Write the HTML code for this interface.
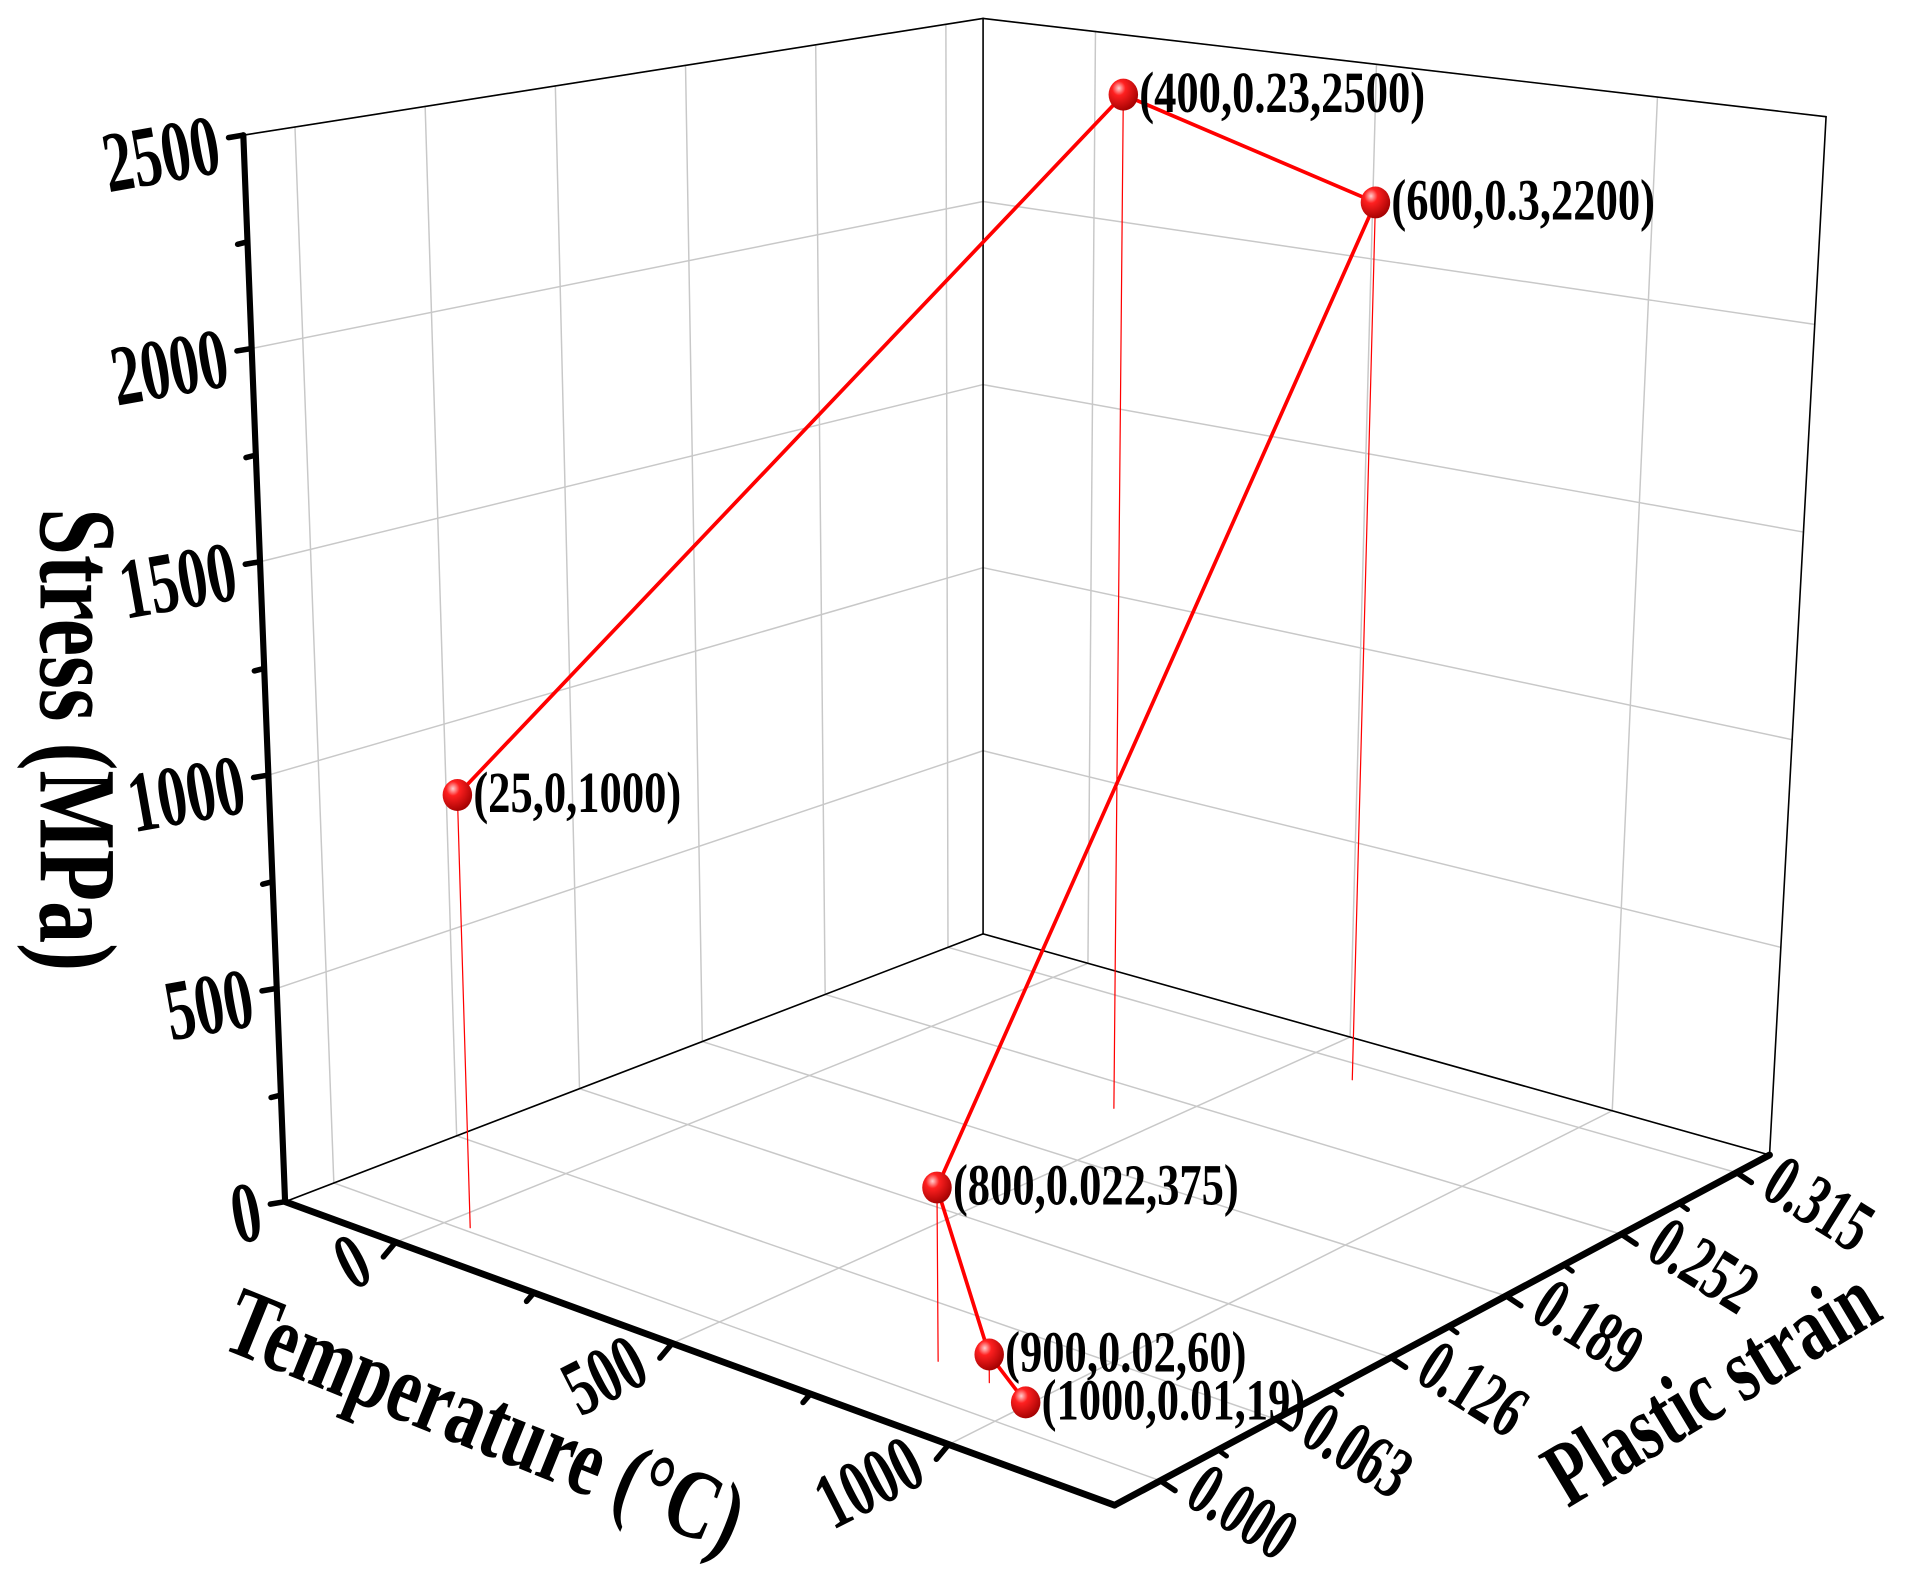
<!DOCTYPE html>
<html><head><meta charset="utf-8">
<style>
html,body{margin:0;padding:0;background:#fff;}
svg{display:block;}
text{font-family:"Liberation Serif",serif;font-weight:bold;fill:#000;}
</style></head>
<body>
<svg id="chart" width="1917" height="1574" viewBox="0 0 1560 1281" preserveAspectRatio="none" xmlns="http://www.w3.org/2000/svg">
<defs>
<radialGradient id="ball" cx="0.35" cy="0.3" r="0.75">
<stop offset="0" stop-color="#ffd0d0"/><stop offset="0.3" stop-color="#ff2020"/><stop offset="1" stop-color="#a00000"/>
</radialGradient>
</defs>
<g id="grid"></g>
<g id="axes"></g>
<g id="series"></g>
<text transform="translate(33,602) rotate(90) scale(0.95,1.25)" text-anchor="middle" font-size="72">Stress (MPa)</text>
<text transform="translate(385,1180) rotate(22) scale(0.92,1.25)" text-anchor="middle" font-size="64">Temperature (°C)</text>
<text transform="translate(1405,1150) rotate(-31) scale(0.9,1.25)" text-anchor="middle" font-size="60">Plastic strain</text>
</svg>
<script>
// data
const temps = [25, 400, 600, 800, 900, 1000];
const strains = [0, 0.23, 0.3, 0.022, 0.02, 0.01];
const stresses = [1000, 2500, 2200, 375, 60, 19];
const pointLabels = ["(25,0,1000)", "(400,0.23,2500)", "(600,0.3,2200)", "(800,0.022,375)", "(900,0.02,60)", "(1000,0.01,19)"];
const tempTicks = [0, 500, 1000];
const strainTicks = [0, 0.063, 0.126, 0.189, 0.252, 0.315];
const stressTicks = [0, 500, 1000, 1500, 2000, 2500];
const strainTickLabels = ["0.000", "0.063", "0.126", "0.189", "0.252", "0.315"];

const T0 = -200, T1 = 1300, S0 = -0.025, S1 = 0.333, P0 = 0, P1 = 2500;
const NS = "http://www.w3.org/2000/svg";
const floorC = {L:[232,978], F:[907,1225], R:[1440,940], B:[800,760]};
const topC = {L:[198,110], F:[905,215], R:[1486,95], B:[800,15]};
function bil(c,u,v){
  const a=(1-u)*(1-v), b=u*(1-v), d=u*v, e=(1-u)*v;
  return [a*c.L[0]+b*c.F[0]+d*c.R[0]+e*c.B[0], a*c.L[1]+b*c.F[1]+d*c.R[1]+e*c.B[1]];
}
function proj(T,S,P){
  const u=(T-T0)/(T1-T0), v=(S-S0)/(S1-S0), w=(P-P0)/(P1-P0);
  const f=bil(floorC,u,v), t=bil(topC,u,v);
  return [f[0]+w*(t[0]-f[0]), f[1]+w*(t[1]-f[1])];
}
function projData(T,S,P){ return proj(T+12, S+0.003, P); }
function el(parent,tag,attrs){const e=document.createElementNS(NS,tag);for(const k in attrs)e.setAttribute(k,attrs[k]);parent.appendChild(e);return e;}
function line(g,a,b,stroke,w){return el(g,'line',{x1:a[0],y1:a[1],x2:b[0],y2:b[1],stroke:stroke,'stroke-width':w,'stroke-linecap':'round'});}

const grid=document.getElementById('grid');
const axes=document.getElementById('axes');
const series=document.getElementById('series');
const gc='#c8c8c8';
strainTicks.forEach(s=>{const l=line(grid,proj(T0,s,P0),proj(T0,s,P1),gc,1.2);

});
tempTicks.forEach(t=>{const l=line(grid,proj(t,S1,P0),proj(t,S1,P1),gc,1.2);

});
stressTicks.forEach(p=>{
  const a=line(grid,proj(T0,S0,p),proj(T0,S1,p),gc,1.2);
  
  
  const b=line(grid,proj(T0,S1,p),proj(T1,S1,p),gc,1.2);
  
  
});
strainTicks.forEach(s=>{const l=line(grid,proj(T0,s,P0),proj(T1,s,P0),gc,1.2);

});
tempTicks.forEach(t=>{const l=line(grid,proj(t,S0,P0),proj(t,S1,P0),gc,1.2);

});
[[proj(T0,S1,P0),proj(T0,S1,P1)],[proj(T0,S0,P1),proj(T0,S1,P1)],[proj(T0,S1,P1),proj(T1,S1,P1)],
 [proj(T1,S1,P1),proj(T1,S1,P0)],[proj(T0,S0,P0),proj(T0,S1,P0)],[proj(T0,S1,P0),proj(T1,S1,P0)]].forEach(e=>{
  const l=line(axes,e[0],e[1],'#000',1.3);
  
  
});
let ax=line(axes,proj(T0,S0,P0),proj(T0,S0,P1),'#000',5);


ax=line(axes,proj(T0,S0,P0),proj(T1,S0,P0),'#000',5.5);


ax=line(axes,proj(T1,S0,P0),proj(T1,S1,P0),'#000',5.5);



for(let p=0;p<=2500;p+=250){
  const a=proj(T0,S0,p); const major=p%500===0;
  const l=line(axes,a,[a[0]-(major?12:8),a[1]+2],'#000',4.5);
  
  
}
stressTicks.forEach(p=>{
  const a=proj(T0,S0,p);
  const t=el(axes,'text',{transform:`translate(${a[0]-16},${a[1]+30}) rotate(-10) scale(0.88,1.3)`,'text-anchor':'end','font-size':54});
  t.textContent=String(p);
  
  
});
for(let T=0;T<=1000;T+=250){
  const a=proj(T,S0,P0); const major=T%500===0;
  const l=line(axes,a,[a[0]-(major?10:6),a[1]+(major?12:7)],'#000',4.5);
  
  
}
tempTicks.forEach(T=>{
  const a=proj(T,S0,P0);
  const t=el(axes,'text',{transform:`translate(${a[0]-16},${a[1]+30}) rotate(-27) scale(0.88,1.3)`,'text-anchor':'end','font-size':50});
  t.textContent=String(T);
  
  
});
for(let i=0;i<strainTicks.length;i++){
  const s=strainTicks[i];
  const a=proj(T1,s,P0);
  const l=line(axes,a,[a[0]+12,a[1]+8],'#000',4.5);
  
  
  if(i<strainTicks.length-1){
    const m=proj(T1,(s+strainTicks[i+1])/2,P0);
    const l2=line(axes,m,[m[0]+7,m[1]+5],'#000',4);
    
    
  }
  const t=el(axes,'text',{transform:`translate(${a[0]+18},${a[1]+18}) rotate(32) scale(0.88,1.3)`,'text-anchor':'start','font-size':46});
  t.textContent=strainTickLabels[i];
  
  
}

for(let i=0;i<temps.length;i++){
  const l=line(series,projData(temps[i],strains[i],P0),projData(temps[i],strains[i],stresses[i]),'#ff0000',1);
  
  
}
const pts=temps.map((t,i)=>projData(t,strains[i],stresses[i]));
const pl=el(series,'polyline',{points:pts.map(p=>p.join(',')).join(' '),fill:'none',stroke:'#ff0000','stroke-width':3,'stroke-linejoin':'round'});


pts.forEach((p,i)=>{
  const c=el(series,'ellipse',{cx:p[0],cy:p[1],rx:12,ry:13,fill:'url(#ball)'});
  
  
  const t=el(series,'text',{transform:`translate(${p[0]+13},${p[1]+14}) scale(0.98,1.28)`,'font-size':37});
  t.textContent=pointLabels[i];
  
  
});
</script>
</body></html>
